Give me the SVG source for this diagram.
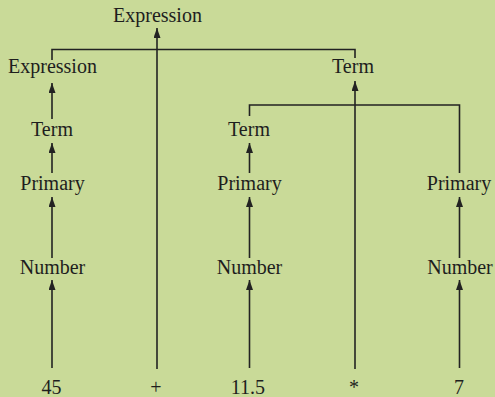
<svg xmlns="http://www.w3.org/2000/svg" width="495" height="397" viewBox="0 0 495 397">
<style>
.lbl{font-family:'Liberation Serif','Times New Roman',serif;font-size:20px;fill:#1e1e1e;text-anchor:middle}
.ln{stroke:#222;stroke-width:1.6;fill:none}
</style>
<defs>
<marker id="ah" markerUnits="userSpaceOnUse" markerWidth="10" markerHeight="7" refX="10" refY="3.5" orient="auto">
<path d="M0,0 L10,3.5 L0,7 z" fill="#222"/>
</marker>
</defs>
<rect width="495" height="397" fill="#c9da98"/>
<g id="connectors">
<path class="ln" d="M52,60 V49.5 H355 V58"/>
<path class="ln" d="M249.5,116 V105 H459.5 V173"/>
<line class="ln" x1="157" y1="369" x2="157" y2="28" marker-end="url(#ah)"/>
<line class="ln" x1="355" y1="369" x2="355" y2="81" marker-end="url(#ah)"/>
<line class="ln" x1="52" y1="119" x2="52" y2="83" marker-end="url(#ah)"/>
<line class="ln" x1="52" y1="173" x2="52" y2="143" marker-end="url(#ah)"/>
<line class="ln" x1="249.5" y1="173" x2="249.5" y2="143" marker-end="url(#ah)"/>
<line class="ln" x1="52" y1="258" x2="52" y2="197" marker-end="url(#ah)"/>
<line class="ln" x1="249.5" y1="258" x2="249.5" y2="197" marker-end="url(#ah)"/>
<line class="ln" x1="459.5" y1="258" x2="459.5" y2="197" marker-end="url(#ah)"/>
<line class="ln" x1="52" y1="368" x2="52" y2="280" marker-end="url(#ah)"/>
<line class="ln" x1="249.5" y1="368" x2="249.5" y2="280" marker-end="url(#ah)"/>
<line class="ln" x1="459.5" y1="368" x2="459.5" y2="280" marker-end="url(#ah)"/>
</g>
<g id="expr-top"><text class="lbl" x="157.5" y="22">Expression</text></g>
<g id="expr-left"><text class="lbl" x="52.5" y="73">Expression</text></g>
<g id="term-right"><text class="lbl" x="353" y="73">Term</text></g>
<g id="term-left"><text class="lbl" x="52" y="136">Term</text></g>
<g id="term-mid"><text class="lbl" x="249" y="136">Term</text></g>
<g id="primary-left"><text class="lbl" x="52.5" y="189.5">Primary</text></g>
<g id="primary-mid"><text class="lbl" x="249.5" y="189.5">Primary</text></g>
<g id="primary-right"><text class="lbl" x="459" y="189.5">Primary</text></g>
<g id="number-left"><text class="lbl" x="52.5" y="274">Number</text></g>
<g id="number-mid"><text class="lbl" x="249.5" y="274">Number</text></g>
<g id="number-right"><text class="lbl" x="460" y="274">Number</text></g>
<g id="tok-45"><text class="lbl" x="51.5" y="394">45</text></g>
<g id="tok-plus"><text class="lbl" x="156" y="394">+</text></g>
<g id="tok-11-5"><text class="lbl" x="248" y="394">11.5</text></g>
<g id="tok-star"><text class="lbl" x="354" y="394">*</text></g>
<g id="tok-7"><text class="lbl" x="459" y="394">7</text></g>
</svg>
